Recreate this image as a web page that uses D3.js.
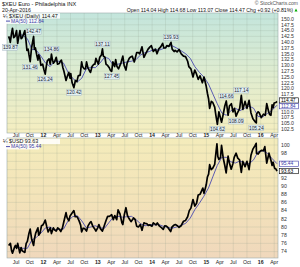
<!DOCTYPE html>
<html><head><meta charset="utf-8">
<script src="https://cdn.jsdelivr.net/npm/d3@7"></script>
<style>body{margin:0;background:#fff}svg{display:block;font-family:"Liberation Sans",Arial,sans-serif}</style>
</head><body><svg id="c" width="300" height="267"></svg>
<script>
// ---------- DATA ----------
const xeuDates = ["2011-05-12","2011-05-20","2011-05-23","2011-06-01","2011-06-07","2011-06-15","2011-06-24","2011-07-04","2011-07-12","2011-07-20","2011-07-27","2011-08-04","2011-08-12","2011-08-29","2011-09-06","2011-09-12","2011-09-20","2011-09-26","2011-10-04","2011-10-13","2011-10-27","2011-11-01","2011-11-08","2011-11-17","2011-11-25","2011-11-30","2011-12-07","2011-12-15","2011-12-27","2012-01-05","2012-01-13","2012-01-20","2012-01-27","2012-02-08","2012-02-16","2012-02-24","2012-03-01","2012-03-08","2012-03-16","2012-03-27","2012-04-05","2012-04-16","2012-04-24","2012-05-01","2012-05-11","2012-05-18","2012-06-01","2012-06-08","2012-06-20","2012-06-28","2012-07-03","2012-07-12","2012-07-24","2012-08-03","2012-08-13","2012-08-22","2012-09-04","2012-09-14","2012-09-20","2012-10-01","2012-10-10","2012-10-17","2012-10-26","2012-11-07","2012-11-13","2012-11-23","2012-12-05","2012-12-12","2012-12-19","2013-01-04","2013-01-14","2013-01-25","2013-02-01","2013-02-07","2013-02-18","2013-02-25","2013-03-08","2013-03-19","2013-03-27","2013-04-04","2013-04-12","2013-04-24","2013-05-01","2013-05-10","2013-05-20","2013-06-05","2013-06-18","2013-06-27","2013-07-09","2013-07-17","2013-07-31","2013-08-07","2013-08-20","2013-09-03","2013-09-19","2013-10-01","2013-10-10","2013-10-25","2013-11-07","2013-11-15","2013-11-27","2013-12-05","2013-12-18","2013-12-27","2014-01-09","2014-01-24","2014-02-03","2014-02-14","2014-02-28","2014-03-13","2014-03-21","2014-04-01","2014-04-10","2014-04-24","2014-05-08","2014-05-16","2014-05-29","2014-06-05","2014-06-18","2014-07-01","2014-07-16","2014-07-31","2014-08-14","2014-08-28","2014-09-05","2014-09-19","2014-10-03","2014-10-15","2014-10-24","2014-11-07","2014-11-19","2014-12-05","2014-12-16","2014-12-31","2015-01-08","2015-01-16","2015-01-23","2015-02-03","2015-02-13","2015-02-26","2015-03-06","2015-03-16","2015-03-26","2015-04-13","2015-04-23","2015-05-05","2015-05-15","2015-05-27","2015-06-05","2015-06-18","2015-06-29","2015-07-09","2015-07-20","2015-07-31","2015-08-13","2015-08-24","2015-09-03","2015-09-18","2015-10-01","2015-10-15","2015-10-28","2015-11-10","2015-11-25","2015-12-03","2015-12-04","2015-12-15","2015-12-23","2016-01-05","2016-01-20","2016-02-01","2016-02-11","2016-02-24","2016-03-02","2016-03-10","2016-03-18","2016-03-25","2016-04-01","2016-04-12","2016-04-20"];
const xeuValues = [142.5,141.0,139.9,144.0,146.0,142.0,142.5,145.0,139.5,142.5,145.0,141.5,142.0,145.0,140.5,136.5,137.0,134.5,131.6,137.5,142.47,137.0,137.5,134.5,132.3,134.5,133.5,130.0,130.5,128.0,126.24,129.5,132.0,132.8,130.5,134.86,132.5,131.0,131.6,133.5,130.5,130.8,131.8,132.3,129.0,127.5,123.5,125.0,127.0,124.5,126.5,122.5,120.42,123.5,123.0,125.5,125.8,131.5,129.5,128.5,128.5,131.5,129.0,127.5,127.0,129.5,130.5,130.5,133.0,130.5,133.5,134.5,137.11,134.0,133.5,130.5,130.0,129.0,127.8,127.45,131.5,129.5,132.5,129.5,128.5,131.0,134.0,130.0,128.0,131.0,133.0,133.5,134.0,131.5,135.5,135.5,135.0,138.0,133.5,134.5,136.0,137.0,138.0,138.5,136.0,137.0,135.0,137.0,138.0,139.5,137.5,137.5,138.5,138.2,139.93,137.0,136.0,136.5,135.8,136.9,135.0,134.0,133.8,131.8,129.5,128.5,125.0,128.0,126.7,124.0,125.5,122.5,125.0,121.0,118.0,115.5,111.5,114.5,114.0,112.0,108.5,104.62,110.0,105.5,108.5,112.5,114.66,108.5,112.5,113.5,110.0,111.5,108.09,109.8,111.5,117.14,111.0,114.5,111.5,114.9,109.5,107.0,105.7,105.24,109.0,110.0,109.5,107.5,109.0,108.5,113.5,110.0,108.8,108.5,113.0,111.8,113.8,114.0,114.47];

const xeuMaDates = ["2011-07-20","2011-08-15","2011-09-15","2011-10-15","2011-11-15","2011-12-15","2012-01-15","2012-02-15","2012-03-15","2012-04-15","2012-05-15","2012-06-15","2012-07-15","2012-08-15","2012-09-15","2012-10-15","2012-11-15","2012-12-15","2013-01-15","2013-02-15","2013-03-15","2013-04-15","2013-05-15","2013-06-15","2013-07-15","2013-08-15","2013-09-15","2013-10-15","2013-11-15","2013-12-15","2014-01-15","2014-02-15","2014-03-15","2014-04-15","2014-05-15","2014-06-15","2014-07-15","2014-08-15","2014-09-15","2014-10-15","2014-11-15","2014-12-15","2015-01-15","2015-02-15","2015-03-15","2015-04-15","2015-05-15","2015-06-15","2015-07-15","2015-08-15","2015-09-15","2015-10-15","2015-11-15","2015-12-15","2016-01-15","2016-02-15","2016-03-15","2016-04-20"];
const xeuMaValues = [143.3,143.0,141.5,137.0,136.5,134.0,131.0,129.5,131.8,131.8,131.0,127.0,124.5,122.8,124.5,128.5,129.2,129.0,131.0,133.5,133.0,130.0,130.5,131.0,131.5,131.8,132.5,134.5,135.5,136.0,137.0,136.5,137.2,138.2,138.5,137.5,136.3,135.0,133.0,129.5,127.0,125.0,122.0,117.5,113.5,109.5,108.5,110.5,111.5,110.5,111.5,112.5,111.5,108.0,107.8,109.3,110.5,112.84];

const xeuNoteDates = ["2011-05-23","2011-10-04","2011-10-27","2012-01-13","2012-02-24","2012-07-24","2013-02-01","2013-04-04","2014-05-08","2015-03-16","2015-05-15","2015-07-20","2015-08-24","2015-12-03"];
const xeuNoteValues = [139.87,131.46,142.47,126.24,134.86,120.42,137.11,127.45,139.93,104.62,114.66,108.09,117.14,105.24];
const xeuNoteSide = ["low","low","high","low","high","low","high","low","high","low","high","low","high","low"];

const usdDates = ["2011-05-12","2011-05-24","2011-06-01","2011-06-07","2011-06-20","2011-06-27","2011-07-05","2011-07-12","2011-07-26","2011-08-04","2011-08-11","2011-08-19","2011-08-29","2011-09-07","2011-09-15","2011-09-26","2011-10-04","2011-10-14","2011-10-27","2011-11-01","2011-11-10","2011-11-25","2011-11-30","2011-12-09","2011-12-19","2011-12-28","2012-01-05","2012-01-13","2012-01-24","2012-02-02","2012-02-16","2012-02-24","2012-03-08","2012-03-16","2012-03-27","2012-04-06","2012-04-16","2012-04-27","2012-05-08","2012-05-18","2012-06-01","2012-06-08","2012-06-20","2012-06-28","2012-07-12","2012-07-24","2012-08-02","2012-08-15","2012-08-28","2012-09-07","2012-09-14","2012-09-24","2012-10-05","2012-10-17","2012-10-26","2012-11-08","2012-11-16","2012-11-28","2012-12-10","2012-12-19","2012-12-31","2013-01-08","2013-01-18","2013-02-01","2013-02-12","2013-02-25","2013-03-08","2013-03-20","2013-04-04","2013-04-15","2013-04-25","2013-05-08","2013-05-17","2013-05-30","2013-06-12","2013-06-18","2013-06-28","2013-07-09","2013-07-19","2013-07-31","2013-08-12","2013-08-30","2013-09-09","2013-09-19","2013-10-01","2013-10-14","2013-10-25","2013-11-07","2013-11-15","2013-11-27","2013-12-06","2013-12-18","2013-12-31","2014-01-09","2014-01-27","2014-02-05","2014-02-20","2014-03-07","2014-03-17","2014-03-27","2014-04-07","2014-04-17","2014-05-06","2014-05-15","2014-05-30","2014-06-06","2014-06-20","2014-07-01","2014-07-15","2014-07-31","2014-08-14","2014-08-28","2014-09-08","2014-09-19","2014-10-03","2014-10-15","2014-10-27","2014-11-07","2014-11-20","2014-12-08","2014-12-16","2014-12-31","2015-01-08","2015-01-16","2015-01-23","2015-02-02","2015-02-12","2015-02-26","2015-03-06","2015-03-13","2015-03-19","2015-03-26","2015-04-06","2015-04-13","2015-04-24","2015-05-05","2015-05-14","2015-05-27","2015-06-05","2015-06-17","2015-06-29","2015-07-07","2015-07-20","2015-07-31","2015-08-12","2015-08-24","2015-09-03","2015-09-18","2015-10-01","2015-10-15","2015-10-28","2015-11-10","2015-11-25","2015-12-02","2015-12-04","2015-12-15","2015-12-29","2016-01-08","2016-01-20","2016-01-29","2016-02-11","2016-02-26","2016-03-10","2016-03-18","2016-03-25","2016-04-04","2016-04-12","2016-04-20"];
const usdValues = [75.5,76.0,74.2,73.6,75.0,75.5,74.8,76.0,73.7,75.0,74.2,74.0,73.8,76.0,76.5,78.5,79.5,77.0,75.5,77.0,78.5,79.8,78.0,78.5,80.3,80.5,81.0,81.7,80.0,78.8,79.8,78.4,79.8,79.3,79.0,79.8,79.5,78.9,79.8,81.4,83.5,82.3,81.5,82.7,83.4,84.0,82.5,82.5,81.5,80.5,78.8,79.7,79.6,79.0,80.2,81.0,81.3,80.2,79.6,79.0,79.8,80.6,79.6,79.0,80.2,81.6,82.6,82.6,83.0,81.8,82.8,81.8,84.2,83.2,81.0,80.6,83.0,84.7,82.8,82.0,81.3,82.2,81.8,80.2,80.0,80.6,79.2,81.0,80.9,80.8,80.4,80.5,80.2,81.0,80.5,81.0,80.2,79.8,79.4,80.3,80.2,79.9,78.9,80.0,80.5,80.6,80.3,79.9,80.3,81.4,81.6,82.5,84.0,84.6,86.7,85.1,85.8,87.8,88.0,89.5,88.2,90.3,92.2,92.9,95.2,94.0,94.3,95.3,98.0,100.3,97.2,96.5,96.9,99.9,96.9,95.0,93.2,97.3,95.6,94.1,95.5,97.0,98.0,96.8,96.4,93.3,96.0,94.7,96.0,94.0,97.5,99.0,99.9,100.4,98.0,97.8,98.5,98.7,98.6,99.6,95.6,98.0,96.3,95.0,95.8,94.3,94.2,93.63];

const usdMaDates = ["2011-07-20","2011-08-15","2011-09-15","2011-10-15","2011-11-15","2011-12-15","2012-01-15","2012-02-15","2012-03-15","2012-04-15","2012-05-15","2012-06-15","2012-07-15","2012-08-15","2012-09-15","2012-10-15","2012-11-15","2012-12-15","2013-01-15","2013-02-15","2013-03-15","2013-04-15","2013-05-15","2013-06-15","2013-07-15","2013-08-15","2013-09-15","2013-10-15","2013-11-15","2013-12-15","2014-01-15","2014-02-15","2014-03-15","2014-04-15","2014-05-15","2014-06-15","2014-07-15","2014-08-15","2014-09-15","2014-10-15","2014-11-15","2014-12-15","2015-01-15","2015-02-15","2015-03-15","2015-04-15","2015-05-15","2015-06-15","2015-07-15","2015-08-15","2015-09-15","2015-10-15","2015-11-15","2015-12-15","2016-01-15","2016-02-15","2016-03-15","2016-04-20"];
const usdMaValues = [75.0,74.8,74.8,76.8,77.5,78.5,79.8,80.0,79.3,79.4,79.5,81.5,82.5,82.8,81.5,79.8,80.0,80.3,79.8,79.7,81.0,82.4,82.6,82.4,82.5,82.6,81.8,80.8,80.3,80.6,80.5,80.6,80.2,79.9,79.7,80.0,80.4,80.9,82.2,84.2,85.8,87.5,89.5,92.4,95.0,97.0,97.0,95.9,95.6,96.1,95.6,95.4,96.4,98.4,98.6,98.0,96.8,95.44];

const upperTicks = [102.5,105,107.5,110,112.5,115,117.5,120,122.5,125,127.5,130,132.5,135,137.5,140,142.5,145,147.5,150];
const lowerTicks = [74,76,78,80,82,84,86,88,90,92,94,96,98,100];
const upperBoxes = [114.47, 112.84];
const lowerBoxes = [95.44, 93.63];
const xTickDates = ["2011-07-01","2011-10-01","2012-01-01","2012-04-01","2012-07-01","2012-10-01","2013-01-01","2013-04-01","2013-07-01","2013-10-01","2014-01-01","2014-04-01","2014-07-01","2014-10-01","2015-01-01","2015-04-01","2015-07-01","2015-10-01","2016-01-01","2016-04-01"];
const xTickLabels = ["Jul","Oct","12","Apr","Jul","Oct","13","Apr","Jul","Oct","14","Apr","Jul","Oct","15","Apr","Jul","Oct","16","Apr"];

// ---------- DRAW ----------
const P = d3.timeParse("%Y-%m-%d");
const svg = d3.select("#c");
const L = 7, R = 278;
const x = d3.scaleTime().domain([P("2011-05-01"), P("2016-04-20")]).range([L, 277]);
const U = {top: 13, bot: 133};
const D = {top: 138, bot: 258};
const yU = d3.scaleLinear().domain([150 - (U.bot - 19) / 2.32, 150 + (19 - U.top) / 2.32]).range([U.bot, U.top]);
const yD = d3.scaleLinear().domain([100 - (D.bot - 145) / 4.1, 100 + (145 - D.top) / 4.1]).range([D.bot, D.top]);

const defs = svg.append("defs");
function grad(id, stops) {
  const g = defs.append("linearGradient").attr("id", id).attr("x1", 0).attr("x2", 0).attr("y1", 0).attr("y2", 1);
  stops.forEach(s => g.append("stop").attr("offset", s[0]).attr("stop-color", s[1]));
}
grad("gU", [[0, "#c3e5dc"], [0.5, "#dfecd0"], [1, "#f5eec0"]]);
grad("gD", [[0, "#f4ecbb"], [0.5, "#f3e3b9"], [1, "#f0d8bc"]]);

function panel(p, y, ticks, boxes, fill, fmt) {
  svg.append("rect").attr("x", L).attr("y", p.top).attr("width", R - L).attr("height", p.bot - p.top)
    .attr("fill", `url(#${fill})`).attr("stroke", "#9aa").attr("stroke-width", 0.6);
  const g = svg.append("g");
  g.selectAll("line.h").data(ticks).join("line")
    .attr("x1", L).attr("x2", R).attr("y1", d => y(d)).attr("y2", d => y(d))
    .attr("stroke", "#8a9a8a").attr("stroke-opacity", 0.3).attr("stroke-width", 0.6);
  g.selectAll("line.v").data(xTickDates).join("line")
    .attr("x1", d => x(P(d))).attr("x2", d => x(P(d))).attr("y1", p.top).attr("y2", p.bot)
    .attr("stroke", "#8a9a8a").attr("stroke-opacity", 0.3).attr("stroke-width", 0.6);
  // tick labels hidden where the value boxes cover them
  const shown = ticks.filter(t => boxes.every(b => Math.abs(y(t) - y(b)) > 5.5));
  svg.append("g").selectAll("text").data(shown).join("text")
    .attr("x", 281).attr("y", d => y(d) + 1.8).attr("font-size", 5.2).attr("fill", "#333").text(fmt);
}
panel(U, yU, upperTicks, upperBoxes, "gU", d => d.toFixed(1));
panel(D, yD, lowerTicks, lowerBoxes, "gD", d => d.toFixed(0));

function xlabels(yy) {
  svg.append("g").selectAll("text").data(xTickDates).join("text")
    .attr("x", (d) => x(P(d))).attr("y", yy).attr("text-anchor", "middle")
    .attr("font-size", 5.2).attr("fill", "#222")
    .attr("font-weight", (d, i) => /^\d/.test(xTickLabels[i]) ? "bold" : "normal")
    .text((d, i) => xTickLabels[i]);
}
xlabels(137.3);
xlabels(263.5);

function series(dates, vals, y, color, w) {
  const line = d3.line().x((d, i) => x(P(dates[i]))).y(d => y(d));
  svg.append("path").datum(vals).attr("d", line).attr("fill", "none")
    .attr("stroke", color).attr("stroke-width", w).attr("stroke-linejoin", "round");
}
series(xeuMaDates, xeuMaValues, yU, "#4b4bb0", 0.9);
series(xeuDates, xeuValues, yU, "#000", 1.7);
series(usdMaDates, usdMaValues, yD, "#4b4bb0", 0.9);
series(usdDates, usdValues, yD, "#000", 1.7);

// annotations
xeuNoteDates.forEach((d, i) => {
  const v = xeuNoteValues[i];
  const cx = x(P(d));
  const cy = yU(v) + (xeuNoteSide[i] === "high" ? -5 : 5);
  const t = v.toFixed(2);
  const w = 15, h = 5.6;
  svg.append("rect").attr("x", cx - w / 2).attr("y", cy - h / 2).attr("width", w).attr("height", h)
    .attr("fill", "#e2f1f2").attr("stroke", "#9ab").attr("stroke-width", 0.4);
  svg.append("text").attr("x", cx).attr("y", cy + 1.8).attr("text-anchor", "middle")
    .attr("font-size", 4.8).attr("fill", "#223").text(t);
});

// value boxes on right axis (spread apart when they would touch)
function vboxes(y, vals, colors) {
  const c = vals.map(v => y(v));
  const gap = 5.8;
  if (Math.abs(c[1] - c[0]) < gap) {
    const mid = (c[0] + c[1]) / 2, s = c[0] < c[1] ? -1 : 1;
    c[0] = mid + s * gap / 2; c[1] = mid - s * gap / 2;
  }
  vals.forEach((v, i) => {
    svg.append("rect").attr("x", 279.5).attr("y", c[i] - 2.6).attr("width", 19).attr("height", 5.2)
      .attr("fill", "#fff").attr("stroke", colors[i]).attr("stroke-width", 0.6);
    svg.append("text").attr("x", 281).attr("y", c[i] + 1.7).attr("font-size", 4.9).attr("fill", colors[i]).text(v.toFixed(2));
  });
}
vboxes(yU, upperBoxes, ["#000", "#3b3ba8"]);
vboxes(yD, lowerBoxes, ["#3b3ba8", "#000"]);

// legends
function legend(y0, l1, l2) {
  svg.append("rect").attr("x", 2).attr("y", y0 - 4.3).attr("width", 58).attr("height", 5.4).attr("fill", "#fff").attr("fill-opacity", 0.85);
  svg.append("text").attr("x", 3).attr("y", y0).attr("font-size", 5.4).attr("fill", "#111").text(l1);
  svg.append("rect").attr("x", 5).attr("y", y0 + 1.2).attr("width", 34).attr("height", 5.2).attr("fill", "#fff").attr("fill-opacity", 0.85);
  svg.append("line").attr("x1", 6).attr("x2", 10).attr("y1", y0 + 3.6).attr("y2", y0 + 3.6).attr("stroke", "#3b3ba8").attr("stroke-width", 0.9);
  svg.append("text").attr("x", 11).attr("y", y0 + 5.4).attr("font-size", 5).attr("fill", "#3b3ba8").text(l2);
}
legend(17.5, "\u00bc $XEU (Daily) 114.47", "MA(50) 112.84");
legend(143, "\u00bc $USD 93.63", "MA(50) 95.44");

// header
svg.append("text").attr("x", 2).attr("y", 5.5).attr("font-size", 5.6).attr("fill", "#111").text("$XEU Euro - Philadelphia INX");
svg.append("text").attr("x", 2).attr("y", 11.5).attr("font-size", 5.2).attr("fill", "#111").text("20-Apr-2016");
svg.append("text").attr("x", 298).attr("y", 5.2).attr("text-anchor", "end").attr("font-size", 5).attr("fill", "#555").text("\u00a9 StockCharts.com");
svg.append("text").attr("x", 293).attr("y", 11.5).attr("text-anchor", "end").attr("font-size", 5.2).attr("fill", "#111")
  .text("Open 114.04 High 114.68 Low 113.07 Close 114.47 Chg +0.92 (+0.81%)");
svg.append("path").attr("d", "M294.5,11.5 L297.5,11.5 L296,8.5 Z").attr("fill", "#0a0");
</script></body></html>
